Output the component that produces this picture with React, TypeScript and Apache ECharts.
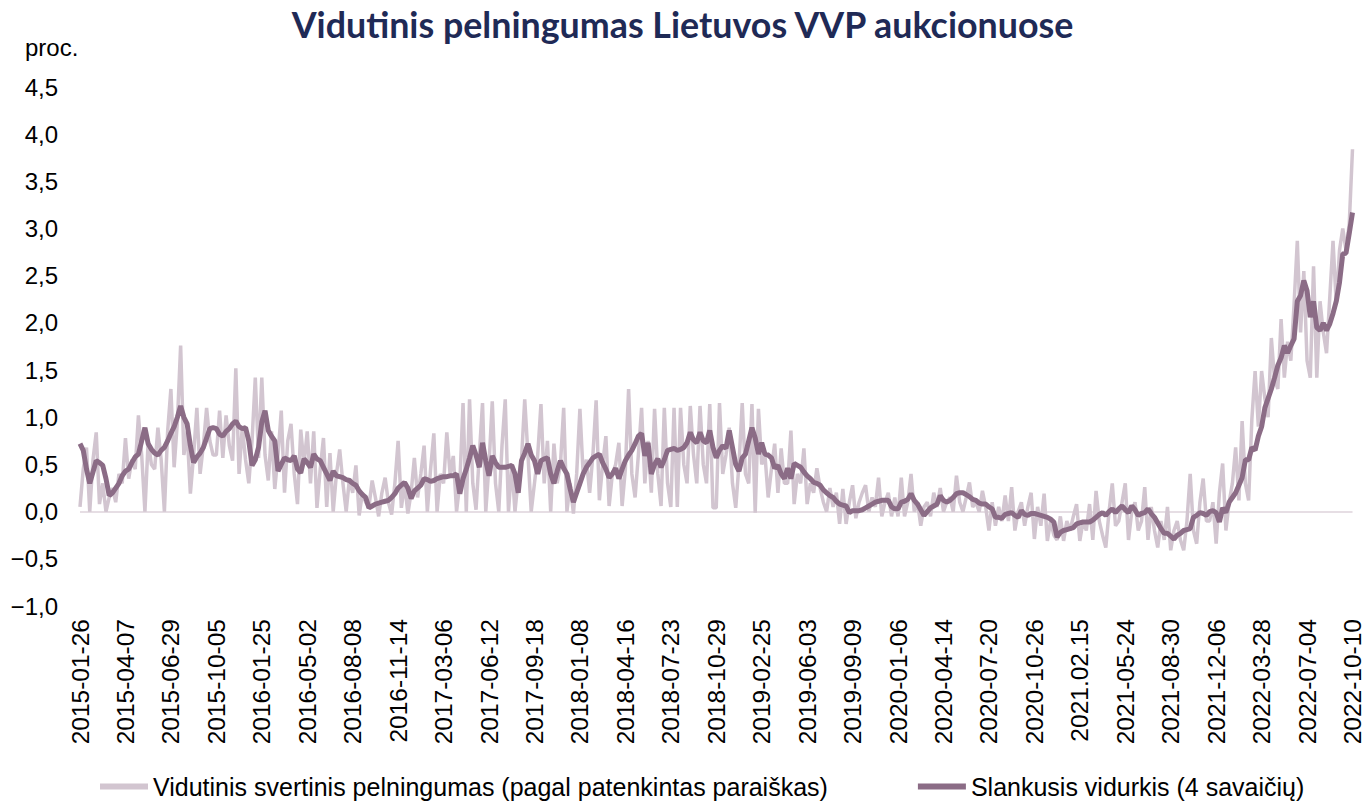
import React, { useEffect, useRef } from "react";
import * as echarts from "echarts";

const titleText = "Vidutinis pelningumas Lietuvos VVP aukcionuose";
const unitText = "proc.";
const seriesNames = [
  "Vidutinis svertinis pelningumas (pagal patenkintas paraiškas)",
  "Slankusis vidurkis (4 savaičių)",
];

const tickLabels = [
  "2015-01-26", "2015-04-07", "2015-06-29", "2015-10-05", "2016-01-25", "2016-05-02",
  "2016-08-08", "2016-11-14", "2017-03-06", "2017-06-12", "2017-09-18", "2018-01-08",
  "2018-04-16", "2018-07-23", "2018-10-29", "2019-02-25", "2019-06-03", "2019-09-09",
  "2020-01-06", "2020-04-14", "2020-07-20", "2020-10-26", "2021.02.15", "2021-05-24",
  "2021-08-30", "2021-12-06", "2022-03-28", "2022-07-04", "2022-10-10",
];

const rawYield = [
  0.05, 0.45, 0.68, 0.0, 0.55, 0.84, 0.08, 0.3, 0.0, 0.15, 0.25, 0.1, 0.4, 0.3,
  0.78, 0.35, 0.55, 0.45, 1.02, 0.6, 0.0, 0.75, 0.5, 0.45, 0.89, 0.55, 0.0, 0.85,
  1.3, 0.47, 0.95, 1.76, 0.6, 0.85, 0.19, 0.6, 1.1, 0.4, 0.7, 1.1, 0.75, 0.6,
  0.6, 1.07, 0.57, 1.02, 0.7, 0.54, 1.52, 0.4, 0.9, 0.55, 0.3, 0.75, 1.42, 0.57,
  1.42, 0.6, 0.33, 0.85, 0.24, 0.6, 1.07, 0.2, 0.75, 0.93, 0.4, 0.08, 0.87, 0.5,
  0.85, 0.3, 0.85, 0.04, 0.45, 0.78, 0.05, 0.62, 0.0, 0.4, 0.66, 0.3, 0.0, 0.35,
  0.2, 0.49, -0.04, 0.2, 0.1, 0.05, 0.33, 0.15, -0.05, 0.2, 0.36, 0.1, -0.03, 0.3,
  0.75, 0.04, 0.3, -0.02, 0.2, 0.57, 0.15, 0.4, 0.7, 0.0, 0.45, 0.83, 0.0, 0.4,
  0.3, 0.84, 0.4, 0.59, 0.0, 0.3, 1.15, 0.0, 1.19, 0.3, 0.02, 0.6, 1.15, 0.0,
  0.5, 1.17, 0.3, 0.0, 0.7, 1.19, 0.0, 0.5, 0.0, 0.35, 0.55, 1.19, 0.6, 0.0,
  0.3, 0.6, 1.14, 0.3, 0.75, 0.0, 0.72, 0.3, 0.5, 1.1, 0.0, 0.3, -0.02, 0.4,
  1.09, 0.4, 0.55, 0.2, 0.6, 1.18, 0.12, 0.5, 0.8, 0.06, 0.4, 0.5, 0.73, 0.06,
  0.45, 1.3, 0.4, 0.15, 0.6, 1.1, 0.3, 0.75, 0.2, 1.09, 0.4, 0.06, 1.1, 0.3,
  0.05, 1.1, 0.05, 1.1, 0.5, 0.3, 1.12, 0.6, 0.3, 1.12, 0.5, 0.3, 1.14, 0.04,
  0.04, 1.15, 0.4, 0.6, 0.89, 0.3, 0.04, 0.5, 1.15, 0.4, 0.3, 1.14, -0.01, 1.09,
  0.5, 0.6, 0.15, 0.45, 0.72, 0.2, 0.67, 0.3, 0.3, 0.86, 0.08, 0.4, 0.3, 0.67,
  0.08, 0.3, 0.2, 0.46, 0.25, 0.1, 0.0, 0.25, 0.05, 0.2, -0.13, 0.24, -0.13, 0.1,
  0.28, -0.07, 0.1, 0.2, 0.28, 0.0, 0.15, 0.05, 0.36, -0.05, 0.1, 0.2, -0.05, 0.15,
  -0.05, 0.36, -0.05, 0.1, 0.4, 0.0, 0.1, -0.15, 0.05, 0.1, -0.05, 0.2, 0.05, 0.25,
  0.0, 0.1, 0.15, 0.0, 0.38, 0.1, 0.0, 0.15, 0.31, 0.05, 0.1, 0.0, 0.22, 0.05,
  -0.2, 0.1, -0.15, 0.05, -0.1, 0.17, -0.1, 0.26, -0.2, 0.0, 0.1, -0.15, 0.05, 0.2,
  -0.29, 0.05, -0.15, 0.19, -0.31, -0.1, -0.25, -0.3, -0.05, -0.31, -0.1, -0.2, -0.05, 0.08,
  -0.31, -0.1, -0.2, 0.08, -0.3, 0.22, -0.1, -0.25, -0.38, 0.0, 0.3, -0.15, -0.1, 0.1,
  0.3, -0.3, 0.0, 0.1, -0.2, -0.1, 0.26, -0.3, 0.05, -0.2, -0.38, -0.1, -0.3, 0.05,
  -0.41, -0.2, -0.1, -0.3, -0.41, -0.1, 0.4, -0.2, -0.34, 0.1, 0.35, -0.1, -0.1, 0.1,
  -0.34, 0.2, 0.51, -0.2, 0.1, 0.3, 0.68, 0.12, 0.96, 0.3, 0.12, 0.98, 1.49, 0.9,
  1.49, 1.2, 1.0, 1.84, 1.4, 1.3, 2.04, 1.42, 1.8, 1.6, 2.2, 2.87, 1.9, 2.55,
  1.6, 1.42, 2.6, 1.42, 2.23, 1.9, 1.68, 2.27, 2.87, 2.2, 2.77, 3.0, 2.77, 3.05,
  3.84,
];

const movingAvg = [
  0.72, 0.65, 0.45, 0.3, 0.42, 0.54, 0.52, 0.49, 0.35, 0.17, 0.2, 0.25, 0.3, 0.38,
  0.43, 0.45, 0.52, 0.58, 0.61, 0.75, 0.89, 0.72, 0.66, 0.62, 0.6, 0.65, 0.68, 0.75,
  0.83, 0.9, 1.0, 1.12, 1.0, 0.93, 0.7, 0.52, 0.58, 0.62, 0.68, 0.78, 0.88, 0.89,
  0.88, 0.82, 0.8, 0.85, 0.88, 0.93, 0.96, 0.9, 0.88, 0.89, 0.75, 0.49, 0.55, 0.68,
  0.95, 1.07, 0.86, 0.8, 0.75, 0.43, 0.5, 0.57, 0.55, 0.54, 0.59, 0.45, 0.41, 0.56,
  0.52, 0.47, 0.61, 0.56, 0.54, 0.47, 0.4, 0.33, 0.43, 0.38, 0.37, 0.36, 0.34, 0.33,
  0.3, 0.28, 0.22, 0.18, 0.15, 0.04, 0.06, 0.08, 0.09, 0.1, 0.11, 0.12, 0.15, 0.19,
  0.25, 0.28, 0.31, 0.25, 0.14, 0.22, 0.25, 0.28, 0.35, 0.34, 0.32, 0.33, 0.35, 0.36,
  0.37, 0.37, 0.38, 0.38, 0.4, 0.19, 0.35, 0.45, 0.57, 0.7, 0.6, 0.47, 0.73, 0.54,
  0.38, 0.59, 0.52, 0.47, 0.47, 0.47, 0.48, 0.49, 0.4, 0.2, 0.54, 0.62, 0.72, 0.6,
  0.54, 0.4, 0.54, 0.56, 0.57, 0.4, 0.3, 0.43, 0.54, 0.46, 0.4, 0.24, 0.1, 0.2,
  0.3, 0.4, 0.47, 0.52, 0.57, 0.59, 0.61, 0.52, 0.45, 0.36, 0.4, 0.46, 0.35, 0.45,
  0.54, 0.6, 0.65, 0.72, 0.8, 0.83, 0.59, 0.73, 0.4, 0.5, 0.56, 0.47, 0.55, 0.65,
  0.66, 0.67, 0.65, 0.66, 0.68, 0.73, 0.84, 0.76, 0.73, 0.84, 0.75, 0.73, 0.86, 0.68,
  0.57, 0.65, 0.7, 0.67, 0.86, 0.68, 0.5, 0.43, 0.57, 0.61, 0.75, 0.89, 0.78, 0.61,
  0.73, 0.61, 0.6, 0.57, 0.46, 0.49, 0.4, 0.35, 0.46, 0.35, 0.51, 0.49, 0.47, 0.42,
  0.38, 0.35, 0.31, 0.3, 0.28, 0.23, 0.2, 0.17, 0.15, 0.11, 0.08, 0.07, 0.06, -0.01,
  0.01, 0.01, 0.01, 0.02, 0.04, 0.06, 0.08, 0.1, 0.11, 0.12, 0.12, 0.12, 0.05, 0.03,
  0.03, 0.1, 0.11, 0.13, 0.19, 0.12, 0.08, 0.02, -0.04, 0.0, 0.04, 0.06, 0.08, 0.17,
  0.12, 0.1, 0.12, 0.15, 0.19, 0.2, 0.2, 0.18, 0.16, 0.13, 0.12, 0.09, 0.08, 0.08,
  0.05, 0.03, -0.06, -0.06, -0.07, -0.03, -0.02, -0.01, -0.04, -0.06, 0.01, -0.03, -0.04, -0.02,
  -0.02, -0.03, -0.04, -0.05, -0.06, -0.08, -0.11, -0.27, -0.22, -0.2, -0.19, -0.18, -0.17, -0.13,
  -0.12, -0.11, -0.11, -0.11, -0.09, -0.06, -0.03, -0.01, -0.04, 0.0, 0.03, -0.01, 0.03, 0.06,
  0.02, -0.01, 0.06, 0.02, -0.04, -0.02, -0.01, 0.03, -0.02, -0.06, -0.12, -0.18, -0.23, -0.23,
  -0.26, -0.29, -0.25, -0.23, -0.2, -0.19, -0.18, -0.06, -0.04, -0.01, -0.02, -0.04, 0.0, 0.01,
  -0.01, -0.11, 0.04, -0.01, 0.1, 0.15, 0.2, 0.28, 0.36, 0.55, 0.55, 0.68, 0.65, 0.8,
  0.9, 1.1, 1.2, 1.3, 1.42, 1.55, 1.63, 1.76, 1.68, 1.76, 1.83, 2.23, 2.29, 2.45,
  2.34, 2.06, 2.23, 1.95, 1.92, 2.0, 1.92, 1.99, 2.1, 2.23, 2.43, 2.73, 2.74, 2.95,
  3.17,
];

const LABEL_STEP = 14;
const categories = rawYield.map((_, i) => String(i));

const FONT = "'Liberation Sans', Arial, sans-serif";
const RAW_COLOR = "#d2c5d0";
const MA_COLOR = "#8b6c86";

export default function App() {
  const ref = useRef<HTMLDivElement>(null);
  useEffect(() => {
    if (!ref.current) return;
    const chart = echarts.init(ref.current, null, { renderer: "svg" });
    chart.setOption({
      animation: false,
      backgroundColor: "#ffffff",
      textStyle: { fontFamily: FONT },
      title: {
        text: titleText,
        left: "center",
        top: 1,
        padding: [5, 0, 5, 28],
        textStyle: {
          fontFamily: "Lato, 'Open Sans', sans-serif",
          fontWeight: "bold",
          fontSize: 35.8,
          color: "#1f2a56",
        },
      },
      graphic: [
        {
          type: "text",
          left: 25,
          top: 35,
          style: { text: unitText, font: `24px ${FONT}`, fill: "#000" },
        },
      ],
      legend: {
        bottom: 3,
        left: 95,
        itemWidth: 48,
        itemHeight: 6,
        itemGap: 90,
        icon: "rect",
        textStyle: { fontFamily: FONT, fontSize: 25, color: "#000" },
        data: seriesNames,
      },
      grid: { left: 80, right: 12, top: 87, bottom: 201, containLabel: false },
      xAxis: {
        type: "category",
        data: categories,
        boundaryGap: false,
        axisLine: { show: false, onZero: false },
        axisTick: { show: false },
        axisLabel: {
          interval: (index: number) => index % LABEL_STEP === 0,
          formatter: (_v: string, index: number) => tickLabels[Math.round(index / LABEL_STEP)] ?? "",
          rotate: 90,
          margin: 13,
          fontSize: 24.5,
          color: "#000",
          fontFamily: FONT,
        },
        splitLine: { show: false },
      },
      yAxis: {
        type: "value",
        min: -1,
        max: 4.5,
        interval: 0.5,
        axisLine: { show: false },
        axisTick: { show: false },
        splitLine: { show: false },
        axisLabel: {
          margin: 22,
          fontSize: 24,
          color: "#000",
          fontFamily: FONT,
          formatter: (v: number) => v.toFixed(1).replace(".", ",").replace("-", "\u2212"),
        },
      },
      series: [
        {
          name: seriesNames[0],
          type: "line",
          data: rawYield,
          symbol: "none",
          lineStyle: { color: RAW_COLOR, width: 3.5 },
          itemStyle: { color: RAW_COLOR },
          z: 2,
          markLine: {
            silent: true,
            symbol: "none",
            label: { show: false },
            lineStyle: { color: "#e6dee4", width: 2, type: "solid" },
            data: [{ yAxis: 0 }],
            z: 1,
          },
        },
        {
          name: seriesNames[1],
          type: "line",
          data: movingAvg,
          symbol: "none",
          lineStyle: { color: MA_COLOR, width: 5 },
          itemStyle: { color: MA_COLOR },
          z: 3,
        },
      ],
    });
    return () => chart.dispose();
  }, []);
  return (
    <div
      ref={ref}
      style={{ position: "absolute", left: 0, top: 0, width: 1365, height: 807 }}
    />
  );
}
